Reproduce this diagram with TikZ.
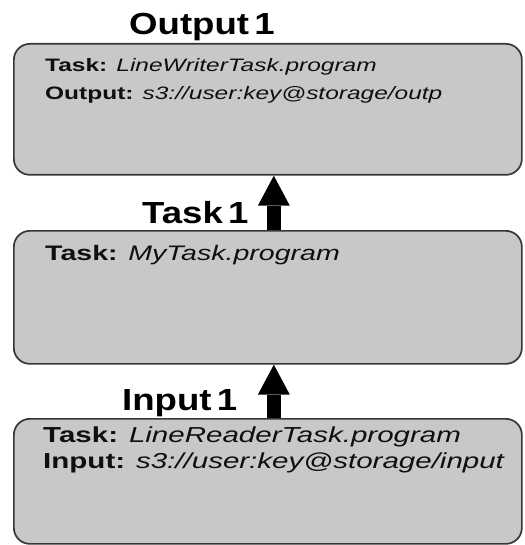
\documentclass[tikz,border=0pt]{standalone}
\usepackage{fontspec}
\usetikzlibrary{arrows.meta}
\setmainfont{Liberation Sans}
% wide faces for the stage captions and the box contents
\newfontfamily\capfont[FakeStretch=1.2]{Liberation Sans}
\newfontfamily\boxfont[FakeStretch=1.36]{Liberation Sans}
\definecolor{stagefill}{RGB}{200,200,200}
\definecolor{stageedge}{RGB}{55,55,55}
\definecolor{inktext}{RGB}{15,15,15}
\tikzset{
  stagebox/.style={draw=stageedge, line width=1.7pt, fill=stagefill,
    rounded corners=16pt, anchor=north west, inner sep=0pt,
    minimum width=508pt},
  caption/.style={anchor=base west, inner sep=0pt, text=black,
    font=\capfont\fontsize{30.5}{36}\selectfont\bfseries},
  entry/.style={anchor=base west, inner sep=0pt, text=inktext},
  flowarrow/.style={line width=14pt, draw=black,
    -{Triangle[width=32pt,length=30pt,line width=0pt]}}
}
\begin{document}
\begin{tikzpicture}[x=1pt,y=-1pt]
\useasboundingbox (0,0) rectangle (524,545);

% three stages
\node[stagebox, minimum height=131pt] (outbox) at (13,43) {};
\node[stagebox, minimum height=133pt] (taskbox) at (13,230) {};
\node[stagebox, minimum height=125pt] (inbox) at (13,418) {};

% captions
\node[caption] (outcap) at (129,35) {Output\hspace{0.17em}1};
\node[caption] (taskcap) at (142,223) {Task\hspace{0.17em}1};
\node[caption] (incap) at (122,410) {Input\hspace{0.17em}1};

% box contents
\node[entry, font=\boxfont\fontsize{18}{22}\selectfont] (outtask) at (45,72)
  {\textbf{Task:} \textit{LineWriterTask.program}};
\node[entry, font=\boxfont\fontsize{18}{22}\selectfont] (outpath) at (45,100)
  {\textbf{Output:} \textit{s3://user:key@storage/outp}};
\node[entry, font=\boxfont\fontsize{21}{25}\selectfont] (midtask) at (45,260)
  {\textbf{Task:} \textit{MyTask.program}};
\node[entry, font=\boxfont\fontsize{21.7}{26}\selectfont] (intask) at (43,442)
  {\textbf{Task:} \textit{LineReaderTask.program}};
\node[entry, font=\boxfont\fontsize{21.7}{26}\selectfont] (inpath) at (43,468)
  {\textbf{Input:} \textit{s3://user:key@storage/input}};

% data flow
\draw[flowarrow] ([xshift=6pt]taskbox.north) -- ([xshift=6pt]outbox.south);
\draw[flowarrow] ([xshift=6pt]inbox.north) -- ([xshift=6pt]taskbox.south);
\end{tikzpicture}
\end{document}
